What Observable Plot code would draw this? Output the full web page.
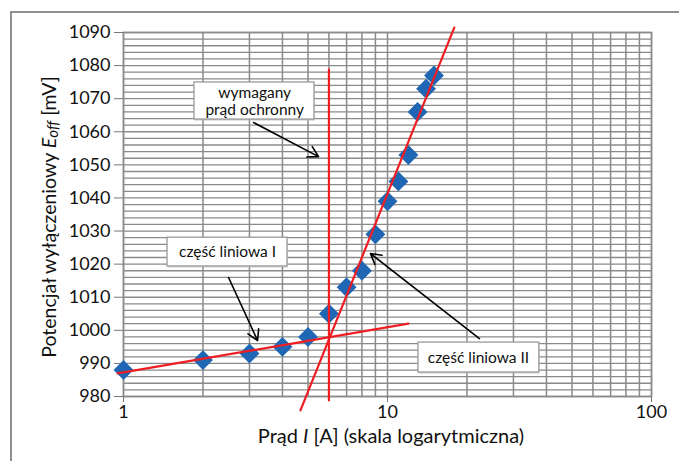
<!DOCTYPE html>
<html>
<head>
<meta charset="utf-8">
<script src="https://cdn.jsdelivr.net/npm/d3@7"></script>
<script src="https://cdn.jsdelivr.net/npm/@observablehq/plot@0.6"></script>
<style>
  body { margin: 0; background: #fff; }
  #wrap { position: relative; width: 679px; height: 461px; overflow: hidden; }
  #border { position: absolute; left: 10px; top: 11px; right: -5px; bottom: -5px; border-top: 2px solid #8f8f8f; border-left: 2px solid #8f8f8f; }
  #chart { position: absolute; left: 0; top: 0; }
</style>
</head>
<body>
<div id="wrap"><div id="border"></div><div id="chart"></div></div>
<script>
// Measured points
const currents   = [1, 2, 3, 4, 5, 6, 7, 8, 9, 10, 11, 12, 13, 14, 15];
const potentials = [988, 991, 993, 995, 998, 1005, 1013, 1018, 1029, 1039, 1045, 1053, 1066, 1073, 1077];

// Fitted lines (endpoints)
const lineI_x  = [0.95, 12];
const lineI_y  = [987, 1002];
const lineII_x = [4.68, 17.9];
const lineII_y = [975.8, 1091.5];
const requiredCurrent = 6;
const requiredY = [978.8, 1078.8];

// Ticks
const xTicks = [1, 10, 100];
const yTicks = [980, 990, 1000, 1010, 1020, 1030, 1040, 1050, 1060, 1070, 1080, 1090];
const xGrid = [1,2,3,4,5,6,7,8,9,10,20,30,40,50,60,70,80,90,100];
const yGrid = d3.range(980, 1091, 2);

// Annotations
const boxLabels = [["wymagany", "prąd ochronny"], ["część liniowa I"], ["część liniowa II"]];
const boxX1 = [1.857, 1.468, 13.1];
const boxX2 = [5.29, 4.18, 37.6];
const boxY1 = [1063.7, 1019.3, 987.25];
const boxY2 = [1074.9, 1028.0, 996.3];
const labelX = [3.14, 2.477, 22.1];
const labelY = [1069.4, 1023.8, 991.8];
const arrowX1 = [3.108, 2.50, 22.3];
const arrowY1 = [1062.8, 1015.95, 997.5];
const arrowX2 = [5.48, 3.22, 8.62];
const arrowY2 = [1052.5, 996.9, 1023.2];

const pts = currents.map((c, i) => ({x: c, y: potentials[i]}));
const lineI = lineI_x.map((x, i) => ({x, y: lineI_y[i]}));
const lineII = lineII_x.map((x, i) => ({x, y: lineII_y[i]}));
const vline = requiredY.map(y => ({x: requiredCurrent, y}));
const boxes = boxLabels.map((t, i) => ({text: t.join("\n"), x1: boxX1[i], x2: boxX2[i], y1: boxY1[i], y2: boxY2[i], lx: labelX[i], ly: labelY[i]}));
const arrows = arrowX1.map((x, i) => ({x1: x, y1: arrowY1[i], x2: arrowX2[i], y2: arrowY2[i]}));

const font = "Lato, 'Open Sans', sans-serif";

const chart = Plot.plot({
  width: 679, height: 461,
  marginLeft: 123, marginRight: 28, marginTop: 32, marginBottom: 65,
  style: {fontFamily: font, fontSize: "16px", color: "#111", background: "transparent"},
  x: {type: "log", domain: [1, 100]},
  y: {domain: [980, 1090]},
  marks: [
    Plot.gridY(yGrid, {stroke: "#8a8a8a", strokeOpacity: 1, strokeWidth: 1.3}),
    Plot.gridX(xGrid, {stroke: "#8a8a8a", strokeOpacity: 1, strokeWidth: 1.5}),
    Plot.frame({stroke: "#8a8a8a", strokeWidth: 1.5}),
    Plot.axisX(xTicks, {tickSize: 6, tickPadding: 3, tickFormat: d => String(d), label: null, fontSize: 18, stroke: "#777"}),
    Plot.axisY(yTicks, {tickSize: 9, tickPadding: 4, tickFormat: d => String(d), label: null, fontSize: 18, stroke: "#777"}),
    Plot.dot(pts, {x: "x", y: "y", symbol: "diamond2", r: 8, fill: "#1f67b4", stroke: "#1f67b4"}),
    Plot.line(lineI, {x: "x", y: "y", stroke: "#f01e23", strokeWidth: 2.2}),
    Plot.line(lineII, {x: "x", y: "y", stroke: "#f01e23", strokeWidth: 2.2}),
    Plot.line(vline, {x: "x", y: "y", stroke: "#f01e23", strokeWidth: 2.2}),
    Plot.rect(boxes, {x1: d => d.x1 * 1.006, x2: d => d.x2 * 1.006, y1: d => d.y1 - 0.5, y2: d => d.y2 - 0.5, fill: "#bbbbbb", fillOpacity: 0.6}),
    Plot.rect(boxes, {x1: "x1", x2: "x2", y1: "y1", y2: "y2", fill: "white", stroke: "#9a9a9a", strokeWidth: 1.3}),
    Plot.arrow(arrows, {x1: "x1", y1: "y1", x2: "x2", y2: "y2", stroke: "black", strokeWidth: 1.6, headLength: 11}),
    Plot.text(boxes, {x: "lx", y: "ly", text: "text", fontSize: 15.5, fill: "#111", lineHeight: 1.1})
  ]
});

const svg = d3.select(chart);
// Y axis label
const yl = svg.append("text")
  .attr("transform", "translate(48,217) rotate(-90)")
  .attr("text-anchor", "middle")
  .attr("dominant-baseline", "central")
  .attr("font-family", font)
  .attr("font-size", 19.5)
  .attr("fill", "#111");
yl.append("tspan").text("Potencjał wyłączeniowy ");
yl.append("tspan").attr("font-style", "italic").text("E");
yl.append("tspan").attr("font-style", "italic").attr("font-size", 15).attr("baseline-shift", "-4").text("off");
yl.append("tspan").text(" [mV]");

// X axis label
const xl = svg.append("text")
  .attr("x", 391).attr("y", 435)
  .attr("text-anchor", "middle")
  .attr("dominant-baseline", "central")
  .attr("font-family", font)
  .attr("font-size", 20)
  .attr("fill", "#111");
xl.append("tspan").text("Prąd ");
xl.append("tspan").attr("font-style", "italic").text("I");
xl.append("tspan").text(" [A] (skala logarytmiczna)");

document.getElementById("chart").appendChild(chart);
</script>
</body>
</html>
